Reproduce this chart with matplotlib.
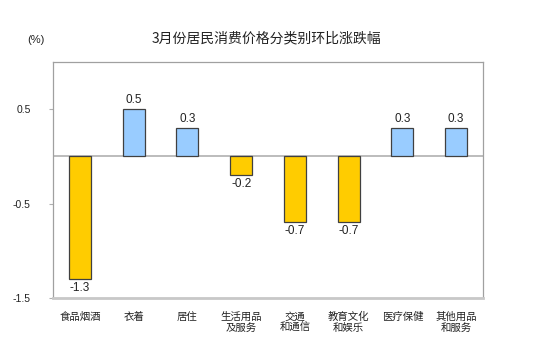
import matplotlib.pyplot as plt
import numpy as np

plt.rcParams['font.family'] = ['Noto Sans CJK SC', 'DejaVu Sans']

categories = ['食品烟酒', '衣着', '居住', '生活用品\n及服务', '交通\n和通信',
              '教育文化\n和娱乐', '医疗保健', '其他用品\n和服务']
values = [-1.3, 0.5, 0.3, -0.2, -0.7, -0.7, 0.3, 0.3]
yticks = [0.5, -0.5, -1.5]

fig = plt.figure(figsize=(5.38, 3.47), dpi=100)
ax = fig.add_axes([53 / 538, 1 - 298 / 347, 430 / 538, 236 / 347])

x = np.arange(len(values))
colors = ['#FFCC00' if v < 0 else '#99CCFF' for v in values]
ax.bar(x, values, width=0.41, color=colors, edgecolor='#404040', linewidth=0.9, zorder=3)
ax.axhline(0, color='#b0b0b0', linewidth=1.2, zorder=2)

for xi, v in zip(x, values):
    if v >= 0:
        ax.text(xi, v + 0.03, f'{v:.1f}', ha='center', va='bottom', fontsize=8.5,
                family='Liberation Sans', color='#222222')
    else:
        ax.text(xi, v - 0.03, f'{v:.1f}', ha='center', va='top', fontsize=8.5,
                family='Liberation Sans', color='#222222')

ax.set_xlim(-0.5, len(values) - 0.5)
ax.set_ylim(-1.5, 1.0)
ax.set_yticks(yticks)
ax.set_yticklabels([f'{t:.1f}' for t in yticks], fontsize=7.5, family='Liberation Sans',
                   color='#222222')
ax.tick_params(axis='y', length=3, color='#b0b0b0', pad=13)
ax.set_xticks(x)
ax.set_xticklabels(categories, fontsize=7.5, color='#222222', linespacing=1.1)
ax.tick_params(axis='x', length=0, pad=10)

for side in ['left', 'top', 'right']:
    ax.spines[side].set_color('#a0a0a0')
    ax.spines[side].set_linewidth(0.9)
ax.spines['bottom'].set_color('#c8c8c8')
ax.spines['bottom'].set_linewidth(2)

fig.text(266 / 538, 1 - 38 / 347, '3月份居民消费价格分类别环比涨跌幅', ha='center', va='center',
         fontsize=10, color='#222222')
fig.text(36 / 538, 1 - 40 / 347, '(%)', ha='center', va='center', fontsize=8,
         family='Liberation Sans', color='#222222')

fig.savefig('out.png', dpi=100)
